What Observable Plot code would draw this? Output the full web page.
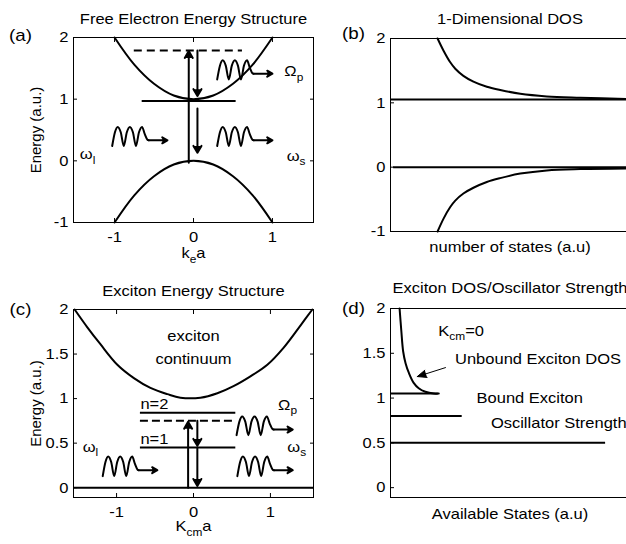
<!DOCTYPE html>
<html>
<head>
<meta charset="utf-8">
<script src="https://cdn.jsdelivr.net/npm/d3@7"></script>
<script src="https://cdn.jsdelivr.net/npm/@observablehq/plot@0.6"></script>
<style>
  html, body { margin: 0; padding: 0; background: #fff; overflow: hidden; }
  #chart { position: relative; width: 626px; height: 544px; overflow: hidden; background: #fff; }
  #chart > svg { position: absolute; }
</style>
</head>
<body>
<div id="chart"></div>
<script>
// ================= DATA =================
// ---- (a) Free electron energy structure ----
const aTitle = "Free Electron Energy Structure";
const aXLabel = "k_{e}a";
const aYLabel = "Energy (a.u.)";
const aXDomain = [-1.52, 1.52];
const aYDomain = [-1, 2];
const aXTicks = [-1, 0, 1];
const aYTicks = [-1, 0, 1, 2];
const aBandK  = [-1.0, -0.75, -0.5, -0.25, 0, 0.25, 0.5, 0.75, 1.0];
const aUpperE = [2.0, 1.56, 1.25, 1.06, 1.0, 1.06, 1.25, 1.56, 2.0];
const aLowerE = [-1.0, -0.56, -0.25, -0.06, 0, -0.06, -0.25, -0.56, -1.0];
const aSolidLevels  = [{k1: -0.65, k2: 0.54, E: 0.97}];
const aDashedLevels = [{k1: -0.75, k2: 0.62, E: 1.79}];
const aTransitions = [
  {k1: -0.06, E1: -0.03, k2: -0.06, E2: 1.78},
  {k1: 0.05, E1: 1.79, k2: 0.05, E2: 1.05},
  {k1: 0.05, E1: 0.85, k2: 0.05, E2: 0.13}
];
const aPhotons = [
  {k1: -1.03, k2: -0.33, E1: 0.24, E2: 0.55},
  {k1: 0.30, k2: 1.00, E1: 0.24, E2: 0.55},
  {k1: 0.30, k2: 1.00, E1: 1.32, E2: 1.63}
];
const aLabels = [
  {k: -1.44, E: 0.10, label: "ω_{l}"},
  {k: 1.18, E: 0.08, label: "ω_{s}"},
  {k: 1.15, E: 1.45, label: "Ω_{p}"}
];

// ---- (b) 1-D density of states ----
const bTitle = "1-Dimensional DOS";
const bXLabel = "number of states (a.u)";
const bYDomain = [-1, 2];
const bYTicks = [-1, 0, 1, 2];
const bCurveX = [0.197, 0.222, 0.250, 0.271, 0.305, 0.347, 0.403, 0.459, 0.543, 0.654, 0.794, 1.0];
const bUpperE = [2.0, 1.81, 1.63, 1.53, 1.42, 1.33, 1.25, 1.20, 1.14, 1.10, 1.08, 1.06];
const bLowerE = [-1.0, -0.80, -0.62, -0.52, -0.41, -0.32, -0.23, -0.17, -0.10, -0.05, -0.03, -0.02];
const bLevels = [{x1: 0, x2: 1, E: 1.05}, {x1: 0.013, x2: 1, E: 0}];

// ---- (c) Exciton energy structure ----
const cTitle = "Exciton Energy Structure";
const cXLabel = "K_{cm}a";
const cYLabel = "Energy (a.u.)";
const cXDomain = [-1.56, 1.56];
const cYDomain = [-0.11, 2];
const cXTicks = [-1, 0, 1];
const cYTicks = [0, 0.5, 1, 1.5, 2];
const cBandK = [-1.545, -1.38, -1.21, -0.99, -0.775, -0.56, -0.34, -0.17, 0.09, 0.31, 0.52, 0.74, 0.96, 1.17, 1.39, 1.545];
const cBandE = [2.0, 1.80, 1.61, 1.38, 1.23, 1.12, 1.05, 1.01, 1.01, 1.06, 1.14, 1.25, 1.38, 1.57, 1.82, 2.0];
const cGround = [{k1: -1.56, k2: 1.56, E: 0}];
const cBoundLevels = [{k1: -0.69, k2: 0.55, E: 0.84}, {k1: -0.69, k2: 0.55, E: 0.45}];
const cDashedLevels = [{k1: -0.69, k2: 0.55, E: 0.75}];
const cTransitions = [
  {k1: -0.07, E1: 0, k2: -0.07, E2: 0.74},
  {k1: 0.05, E1: 0.75, k2: 0.05, E2: 0.47},
  {k1: 0.05, E1: 0.45, k2: 0.05, E2: 0.02}
];
const cPhotons = [
  {k1: -1.18, k2: -0.47, E1: 0.13, E2: 0.35},
  {k1: 0.57, k2: 1.29, E1: 0.13, E2: 0.35},
  {k1: 0.56, k2: 1.29, E1: 0.59, E2: 0.80}
];
const cCenterLabels = [{k: 0, E: 1.70, label: "exciton"}, {k: 0, E: 1.44, label: "continuum"}];
const cStartLabels = [
  {k: -0.69, E: 0.94, label: "n=2"},
  {k: -0.69, E: 0.55, label: "n=1"},
  {k: -1.44, E: 0.46, label: "ω_{l}"},
  {k: 1.22, E: 0.46, label: "ω_{s}"},
  {k: 1.10, E: 0.93, label: "Ω_{p}"}
];

// ---- (d) Exciton DOS / oscillator strength ----
const dTitle = "Exciton DOS/Oscillator Strength";
const dXLabel = "Available States (a.u)";
const dYDomain = [-0.11, 2];
const dYTicks = [0, 0.5, 1, 1.5, 2];
const dCurveX = [0.038, 0.045, 0.053, 0.063, 0.077, 0.097, 0.118, 0.146, 0.181, 0.202];
const dCurveE = [2.0, 1.76, 1.52, 1.39, 1.28, 1.17, 1.11, 1.07, 1.05, 1.05];
const dLevels = [{x2: 0.20, E: 1.05}, {x2: 0.30, E: 0.80}, {x2: 0.90, E: 0.50}];
const dPointer = [{x1: 0.23, E1: 1.34, x2: 0.112, E2: 1.24}];
const dLabels = [
  {x: 0.20, E: 1.75, label: "K_{cm}=0"},
  {x: 0.27, E: 1.43, label: "Unbound Exciton DOS"},
  {x: 0.36, E: 1.00, label: "Bound Exciton"},
  {x: 0.42, E: 0.72, label: "Oscillator Strength"}
];

// ---- photon squiggle glyph (normalised shape) ----
const photonU = [0, 0.05, 0.10, 0.155, 0.21, 0.265, 0.32, 0.375, 0.43, 0.485, 0.54, 0.59, 0.64, 0.66];
const photonV = [0, 0.72, 1, 0.72, 0, 0.72, 1, 0.72, 0, 0.72, 1, 0.62, 0.32, 0.30];
const photonTailU = 0.66, photonTailV = 0.30;

// ================= RENDERING =================
const FONT = '"Liberation Sans", Arial, Helvetica, sans-serif';
const FS = 15;
const STYLE = `font-family: ${FONT}; font-size: ${FS}px; background: transparent; overflow: visible; max-width: none; color: black;`;
const STRETCH = 1.1;
const SVGNS = "http://www.w3.org/2000/svg";
const chart = document.getElementById("chart");
const fmt = d => String(d);
const blank = () => "";
const pts = (xs, ys) => xs.map((x, i) => ({k: x, E: ys[i]}));
const T = {fontSize: FS, fontFamily: FONT, fill: "black"};
const AX = {fontSize: FS, fontFamily: FONT, label: null, stroke: "black", color: "black"};

function photonPath(ph) {
  return ph.flatMap((p, w) => photonU.map((u, j) => ({
    w, k: p.k1 + u * (p.k2 - p.k1), E: p.E1 + photonV[j] * (p.E2 - p.E1)
  })));
}
function photonMarks(ph) {
  const yTail = p => p.E1 + photonTailV * (p.E2 - p.E1);
  return [
    Plot.line(photonPath(ph), {x: "k", y: "E", z: "w", stroke: "black", strokeWidth: 2, curve: "monotone-x"}),
    Plot.arrow(ph, {x1: p => p.k1 + photonTailU * (p.k2 - p.k1), y1: yTail, x2: "k2", y2: yTail,
      stroke: "black", strokeWidth: 2, fill: "black", headLength: 4.5, headAngle: 60})
  ];
}

function addSubscripts(svg) {
  for (const t of svg.querySelectorAll("text")) {
    const s = t.textContent;
    if (!s.includes("_{")) continue;
    const fs = parseFloat(getComputedStyle(t).fontSize) || FS;
    const shift = +(fs * 0.3).toFixed(2);
    const parts = s.split(/(_\{[^}]*\})/).filter(p => p !== "");
    t.textContent = "";
    let lowered = false;
    for (const p of parts) {
      const ts = document.createElementNS(SVGNS, "tspan");
      if (p.startsWith("_{")) {
        ts.textContent = p.slice(2, -1);
        ts.setAttribute("font-size", (fs * 0.72).toFixed(1));
        ts.setAttribute("dy", shift);
        lowered = true;
      } else {
        ts.textContent = p;
        if (lowered) { ts.setAttribute("dy", -shift); lowered = false; }
      }
      t.appendChild(ts);
    }
  }
}
function stretchText(svg) {
  for (const t of svg.querySelectorAll("text")) {
    if (/rotate/.test(t.getAttribute("transform") || "")) continue;
    const w = t.getComputedTextLength();
    if (w > 0) {
      t.setAttribute("textLength", (w * STRETCH).toFixed(1));
      t.setAttribute("lengthAdjust", "spacingAndGlyphs");
    }
  }
}
function place(svg, left, top) {
  svg.style.left = left + "px";
  svg.style.top = top + "px";
  chart.appendChild(svg);
  addSubscripts(svg);
  stretchText(svg);
}
const one = s => [s];
const id = d => d;
const label = (s, o) => Plot.text(one(s), {text: id, textAnchor: "middle", lineAnchor: "middle", ...T, ...o});

// ---- (a) ----
place(Plot.plot({
  width: 320, height: 272, marginLeft: 73, marginRight: 7, marginTop: 37, marginBottom: 50,
  style: STYLE,
  x: {domain: aXDomain}, y: {domain: aYDomain},
  marks: [
    Plot.frame({stroke: "black"}),
    Plot.axisX({ticks: aXTicks, anchor: "bottom", tickSize: -4, tickPadding: 13, tickFormat: fmt, ...AX}),
    Plot.axisX({ticks: aXTicks, anchor: "top", tickSize: -4, tickFormat: blank, ...AX}),
    Plot.axisY({ticks: aYTicks, anchor: "left", tickSize: -4, tickPadding: 9, tickFormat: fmt, ...AX}),
    Plot.axisY({ticks: aYTicks, anchor: "right", tickSize: -4, tickFormat: blank, ...AX}),
    Plot.line(pts(aBandK, aUpperE), {x: "k", y: "E", stroke: "black", strokeWidth: 2, curve: "catmull-rom"}),
    Plot.line(pts(aBandK, aLowerE), {x: "k", y: "E", stroke: "black", strokeWidth: 2, curve: "catmull-rom"}),
    Plot.ruleY(aSolidLevels, {y: "E", x1: "k1", x2: "k2", stroke: "black", strokeWidth: 2}),
    Plot.ruleY(aDashedLevels, {y: "E", x1: "k1", x2: "k2", stroke: "black", strokeWidth: 2, strokeDasharray: "8,5"}),
    Plot.arrow(aTransitions, {x1: "k1", y1: "E1", x2: "k2", y2: "E2", stroke: "black", strokeWidth: 2, fill: "black", headLength: 6, headAngle: 60}),
    ...photonMarks(aPhotons),
    Plot.text(aLabels, {x: "k", y: "E", text: "label", textAnchor: "start", lineAnchor: "middle", ...T}),
    label(aTitle, {frameAnchor: "top", dy: -18}),
    label("(a)", {frameAnchor: "top-left", dx: -53, dy: -2, fontSize: 17}),
    label(aYLabel, {frameAnchor: "left", dx: -37, rotate: -90}),
    label(aXLabel, {frameAnchor: "bottom", dy: 31})
  ]
}), 0, 0);

// ---- (b) ----
place(Plot.plot({
  width: 320, height: 272, marginLeft: 70, marginRight: 11, marginTop: 38, marginBottom: 41,
  style: STYLE,
  x: {domain: [0, 1], axis: null}, y: {domain: bYDomain},
  marks: [
    Plot.frame({stroke: "black"}),
    Plot.axisY({ticks: bYTicks, anchor: "left", tickSize: -4, tickPadding: 9, tickFormat: fmt, ...AX}),
    Plot.line(pts(bCurveX, bUpperE), {x: "k", y: "E", stroke: "black", strokeWidth: 2, curve: "catmull-rom"}),
    Plot.line(pts(bCurveX, bLowerE), {x: "k", y: "E", stroke: "black", strokeWidth: 2, curve: "catmull-rom"}),
    Plot.ruleY(bLevels, {y: "E", x1: "x1", x2: "x2", stroke: "black", strokeWidth: 2}),
    label(bTitle, {frameAnchor: "top", dy: -19}),
    label("(b)", {frameAnchor: "top-left", dx: -37, dy: -5, fontSize: 17}),
    label(bXLabel, {frameAnchor: "bottom", dy: 16})
  ]
}), 320, 0);

// ---- (c) ----
place(Plot.plot({
  width: 320, height: 272, marginLeft: 73, marginRight: 7, marginTop: 37, marginBottom: 47,
  style: STYLE,
  x: {domain: cXDomain}, y: {domain: cYDomain},
  marks: [
    Plot.frame({stroke: "black"}),
    Plot.axisX({ticks: cXTicks, anchor: "bottom", tickSize: -4, tickPadding: 13, tickFormat: fmt, ...AX}),
    Plot.axisX({ticks: cXTicks, anchor: "top", tickSize: -4, tickFormat: blank, ...AX}),
    Plot.axisY({ticks: cYTicks, anchor: "left", tickSize: -4, tickPadding: 9, tickFormat: fmt, ...AX}),
    Plot.axisY({ticks: cYTicks, anchor: "right", tickSize: -4, tickFormat: blank, ...AX}),
    Plot.line(pts(cBandK, cBandE), {x: "k", y: "E", stroke: "black", strokeWidth: 2, curve: "catmull-rom"}),
    Plot.ruleY(cGround, {y: "E", x1: "k1", x2: "k2", stroke: "black", strokeWidth: 2}),
    Plot.ruleY(cBoundLevels, {y: "E", x1: "k1", x2: "k2", stroke: "black", strokeWidth: 2}),
    Plot.ruleY(cDashedLevels, {y: "E", x1: "k1", x2: "k2", stroke: "black", strokeWidth: 2, strokeDasharray: "8,4"}),
    Plot.arrow(cTransitions, {x1: "k1", y1: "E1", x2: "k2", y2: "E2", stroke: "black", strokeWidth: 2, fill: "black", headLength: 6, headAngle: 60}),
    ...photonMarks(cPhotons),
    Plot.text(cCenterLabels, {x: "k", y: "E", text: "label", textAnchor: "middle", lineAnchor: "middle", ...T}),
    Plot.text(cStartLabels, {x: "k", y: "E", text: "label", textAnchor: "start", lineAnchor: "middle", ...T}),
    label(cTitle, {frameAnchor: "top", dy: -18}),
    label("(c)", {frameAnchor: "top-left", dx: -53, dy: 0, fontSize: 17}),
    label(cYLabel, {frameAnchor: "left", dx: -37, rotate: -90}),
    label(cXLabel, {frameAnchor: "bottom", dy: 29})
  ]
}), 0, 272);

// ---- (d) ----
place(Plot.plot({
  width: 320, height: 272, marginLeft: 70, marginRight: 11, marginTop: 36, marginBottom: 47,
  style: STYLE,
  x: {domain: [0, 1], axis: null}, y: {domain: dYDomain},
  marks: [
    Plot.frame({stroke: "black"}),
    Plot.axisY({ticks: dYTicks, anchor: "left", tickSize: -4, tickPadding: 9, tickFormat: fmt, ...AX}),
    Plot.line(pts(dCurveX, dCurveE), {x: "k", y: "E", stroke: "black", strokeWidth: 2, curve: "catmull-rom"}),
    Plot.ruleY(dLevels, {y: "E", x1: 0, x2: "x2", stroke: "black", strokeWidth: 2}),
    Plot.arrow(dPointer, {x1: "x1", y1: "E1", x2: "x2", y2: "E2", stroke: "black", strokeWidth: 1, fill: "black", headLength: 15, headAngle: 45}),
    Plot.text(dLabels, {x: "x", y: "E", text: "label", textAnchor: "start", lineAnchor: "middle", ...T}),
    label(dTitle, {frameAnchor: "top", dy: -20}),
    label("(d)", {frameAnchor: "top-left", dx: -37, dy: 0, fontSize: 17}),
    label(dXLabel, {frameAnchor: "bottom", dy: 17})
  ]
}), 320, 272);
</script>
</body>
</html>
